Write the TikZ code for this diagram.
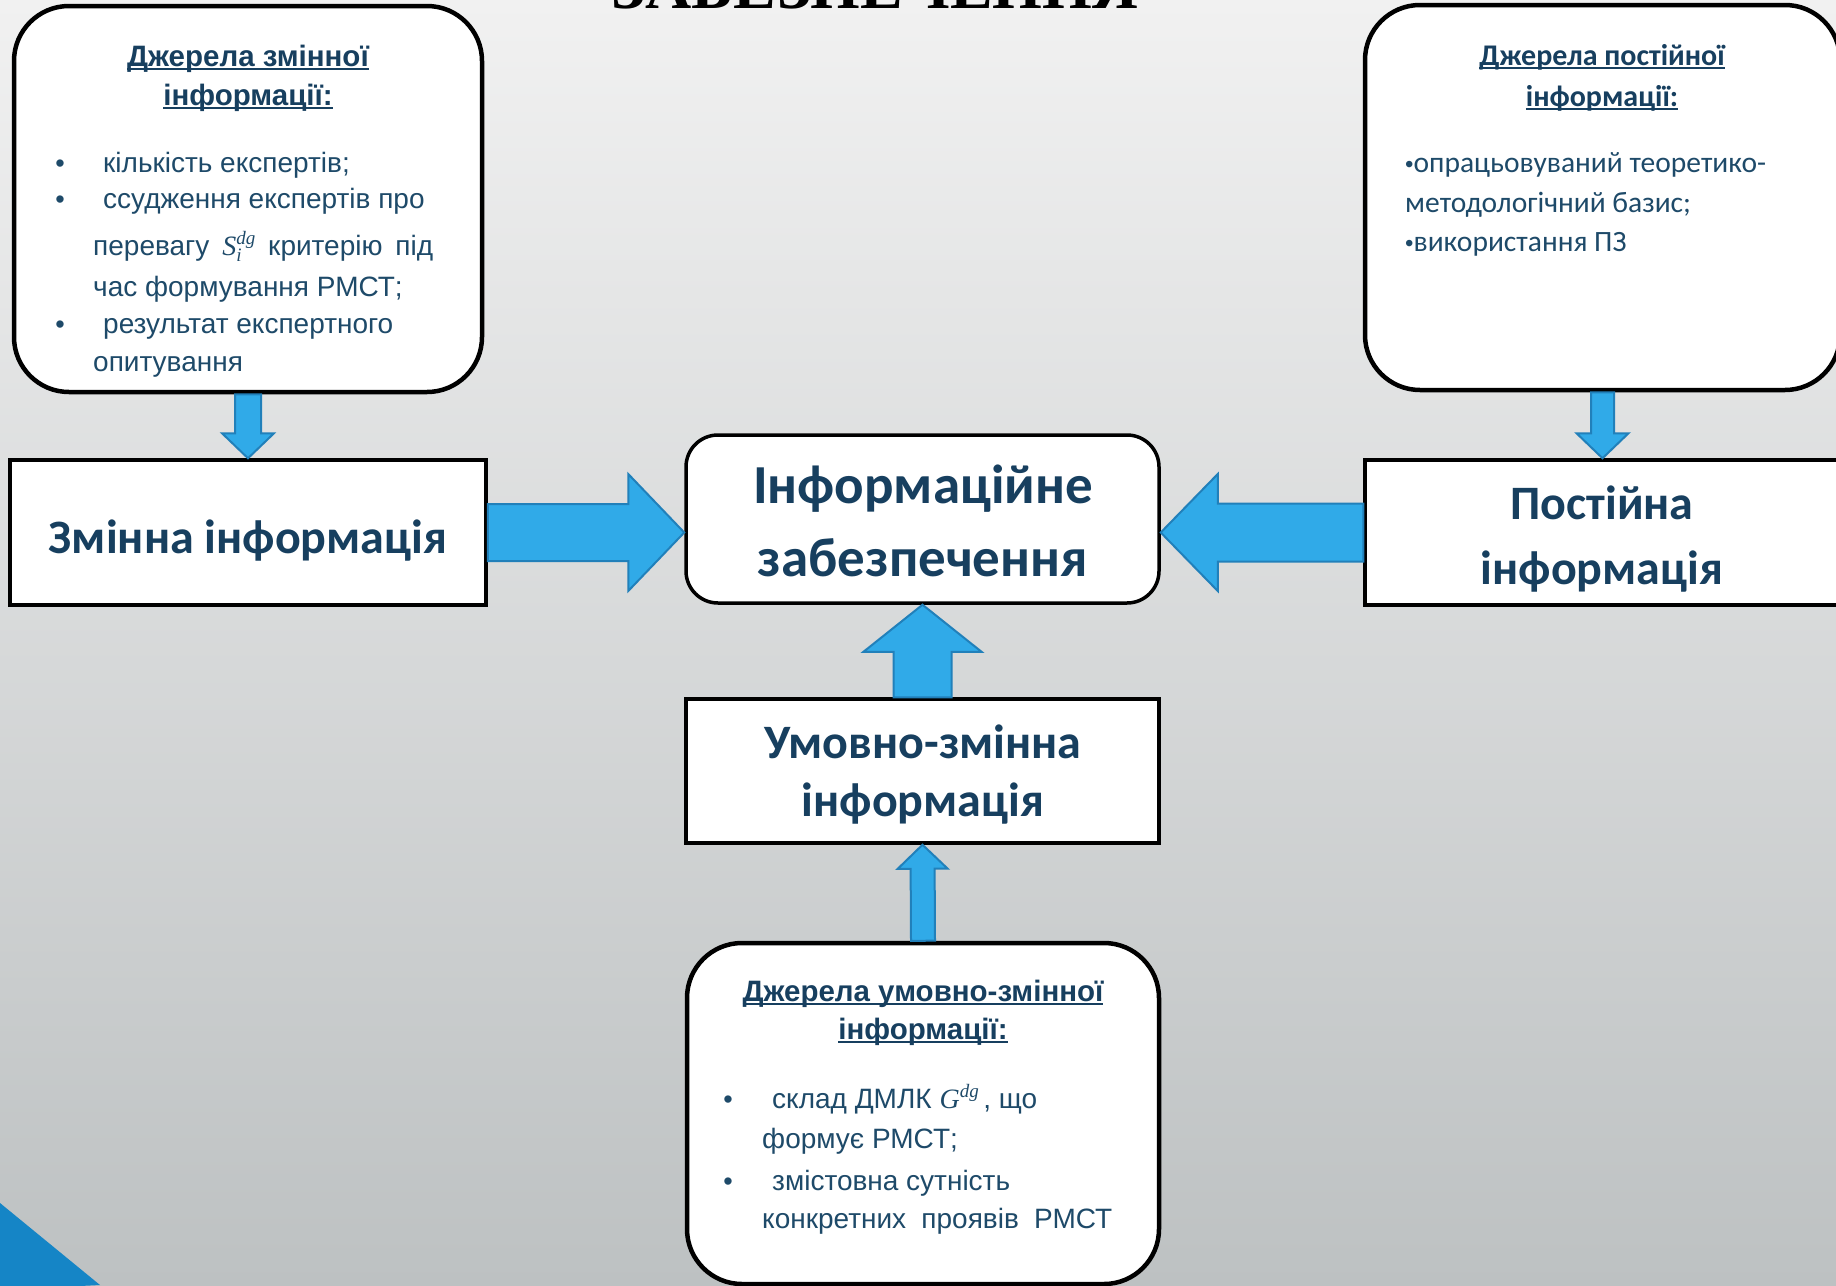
\documentclass[tikz,border=0pt]{standalone}
\usepackage{fontspec}
\setmainfont{Liberation Sans}
\newfontfamily\fcal{Carlito}
\newfontfamily\fari{Liberation Sans}
\newfontfamily\fser{Liberation Serif}
\usetikzlibrary{calc}

\definecolor{navy}{HTML}{173F5F}
\definecolor{bodyblue}{HTML}{1E4A69}
\definecolor{arrowfill}{HTML}{30AAE8}
\definecolor{arrowedge}{HTML}{2180BA}
\definecolor{cornerblue}{HTML}{1585C6}
\definecolor{bgtop}{HTML}{F1F1F1}
\definecolor{bgmid}{HTML}{E0E2E3}
\definecolor{bgbot}{HTML}{BDC1C2}

% underlined heading text with a fixed rule just below the baseline
\newsavebox\ulbox
\newcommand\ulin[1]{\sbox\ulbox{#1}\rlap{\rule[-3.5pt]{\wd\ulbox}{1.8pt}}\usebox\ulbox}

% italic serif symbol with optional subscript and superscript
\newcommand\symb[3]{{\fser\itshape #1\rlap{\raisebox{-6pt}{\fontsize{19}{19}\selectfont #2}}\raisebox{11pt}{\fontsize{19}{19}\selectfont #3}}}

% small bullet
\newcommand\smdot{{\fari\fontsize{24}{24}\selectfont •}}

% block arrow: tail, tip, shaft half-width, head half-width, head length
\newcommand\blockarrow[5]{%
  \path ($(#2)!#5!(#1)$) coordinate (ba-c);
  \filldraw[blockarr] ($(#1)!#3!90:(#2)$) -- ($(ba-c)!#3!90:(#2)$)
    -- ($(ba-c)!#4!90:(#2)$) -- (#2) -- ($(ba-c)!#4!-90:(#2)$)
    -- ($(ba-c)!#3!-90:(#2)$) -- ($(#1)!#3!-90:(#2)$) -- cycle;}

\tikzset{
  srcbox/.style={draw=black, line width=4.5pt, fill=white, rounded corners=55pt, inner sep=0},
  infobox/.style={draw=black, line width=3.5pt, fill=white, inner sep=0},
  corebox/.style={draw=black, line width=3.5pt, fill=white, rounded corners=32pt, inner sep=0},
  blockarr/.style={fill=arrowfill, draw=arrowedge, line width=2pt, line join=miter},
  lbl/.style={anchor=base, inner sep=0, text=navy, font=\fcal\bfseries\fontsize{48}{56}\selectfont},
  corelbl/.style={anchor=base, inner sep=0, text=navy, font=\fcal\bfseries\fontsize{55}{62}\selectfont},
  hdA/.style={anchor=base, inner sep=0, text=navy, font=\fari\bfseries\fontsize{29.5}{34}\selectfont},
  hdC/.style={anchor=base, inner sep=0, text=navy, font=\fcal\bfseries\fontsize{30}{35}\selectfont},
  txA/.style={anchor=base west, inner sep=0, text=bodyblue, font=\fari\fontsize{28}{33}\selectfont},
  txC/.style={anchor=base west, inner sep=0, text=bodyblue, font=\fcal\fontsize{29.5}{35}\selectfont},
  dotA/.style={anchor=base, inner sep=0, text=bodyblue, font=\fari\fontsize{27}{32}\selectfont},
  heading/.style={anchor=base, inner sep=0, text=black, font=\fser\bfseries\fontsize{64}{70}\selectfont},
}

\begin{document}
\begin{tikzpicture}[x=1pt, y=-1pt]
  \useasboundingbox (0,0) rectangle (1836,1285);
  \clip (0,0) rectangle (1836,1285);

  % background
  \shade[top color=bgtop, middle color=bgmid, bottom color=bgbot] (0,0) rectangle (1836,1285);
  \fill[cornerblue] (0,1203) -- (100,1285) -- (0,1290) -- cycle;

  % title (its upper part lies above the page)
  \node[heading] (ttl) at (875,8) {ЗАБЕЗПЕЧЕННЯ};

  % boxes
  \node[srcbox, minimum width=468pt, minimum height=386pt] (zsrc) at (248,199) {};
  \node[srcbox, minimum width=475pt, minimum height=385pt] (psrc) at (1602.5,197.5) {};
  \node[srcbox, minimum width=472pt, minimum height=341pt] (usrc) at (923,1113.5) {};
  \node[infobox, minimum width=476pt, minimum height=145pt] (zinfo) at (248,532.5) {};
  \node[infobox, minimum width=475pt, minimum height=145pt] (pinfo) at (1602.5,532.5) {};
  \node[corebox, minimum width=473pt, minimum height=168pt] (core) at (922.5,519) {};
  \node[infobox, minimum width=473pt, minimum height=144pt] (umz) at (922.5,771) {};

  % arrows
  \coordinate (coreL) at (zinfo.east -| core.west);
  \coordinate (coreR) at (pinfo.west -| core.east);
  \blockarrow{zsrc.south}{zinfo.north}{13pt}{26pt}{25pt}
  \blockarrow{psrc.south}{pinfo.north}{11.5pt}{26pt}{25pt}
  \blockarrow{zinfo.east}{coreL}{28.5pt}{58.5pt}{56pt}
  \blockarrow{pinfo.west}{coreR}{29pt}{58.5pt}{57pt}
  \blockarrow{umz.north}{core.south}{29pt}{59pt}{47pt}
  \blockarrow{usrc.north}{umz.south}{12pt}{25pt}{24pt}

  % box labels
  \node[lbl] (zlbl) at (248,553) {Змінна інформація};
  \node[corelbl] (clbl1) at (923,503) {Інформаційне};
  \node[corelbl] (clbl2) at (923,576) {забезпечення};
  \node[lbl] (plbl1) at (1602,519) {Постійна};
  \node[lbl] (plbl2) at (1602,584) {інформація};
  \node[lbl] (ulbl1) at (923,758) {Умовно-змінна};
  \node[lbl] (ulbl2) at (923,816) {інформація};

  % sources of variable information
  \node[hdA] (zh1) at (248,66) {\ulin{Джерела змінної}};
  \node[hdA] (zh2) at (248,105) {\ulin{інформації:}};
  \node[dotA] (zd1) at (60,172) {•};
  \node[dotA] (zd2) at (60,208) {•};
  \node[dotA] (zd3) at (60,333) {•};
  \node[txA] (zt1) at (103,172) {кількість експертів;};
  \node[txA] (zt2) at (103,208) {ссудження експертів про};
  \node[txA] (zt3) at (93,255) {\makebox[340pt][s]{перевагу \symb{S}{i}{dg} критерію під}};
  \node[txA] (zt4) at (93,296) {час формування РМСТ;};
  \node[txA] (zt5) at (103,333) {результат експертного};
  \node[txA] (zt6) at (93,371) {опитування};

  % sources of constant information
  \node[hdC] (ph1) at (1602,65) {\ulin{Джерела постійної}};
  \node[hdC] (ph2) at (1602,106) {\ulin{інформації:}};
  \node[txC] (pt1) at (1405,172) {\smdot опрацьовуваний теоретико-};
  \node[txC] (pt2) at (1405,212) {методологічний базис;};
  \node[txC] (pt3) at (1405,251) {\smdot використання ПЗ};

  % sources of conditionally variable information
  \node[hdA] (uh1) at (923,1001) {\ulin{Джерела умовно-змінної}};
  \node[hdA] (uh2) at (923,1039) {\ulin{інформації:}};
  \node[dotA] (ud1) at (728,1108) {•};
  \node[dotA] (ud2) at (728,1190) {•};
  \node[txA] (ut1) at (772,1108) {склад ДМЛК \symb{G}{}{dg}\,, що};
  \node[txA] (ut2) at (762,1148) {формує РМСТ;};
  \node[txA] (ut3) at (772,1190) {змістовна сутність};
  \node[txA] (ut4) at (762,1228) {\makebox[350pt][s]{конкретних проявів РМСТ}};
\end{tikzpicture}
\end{document}
